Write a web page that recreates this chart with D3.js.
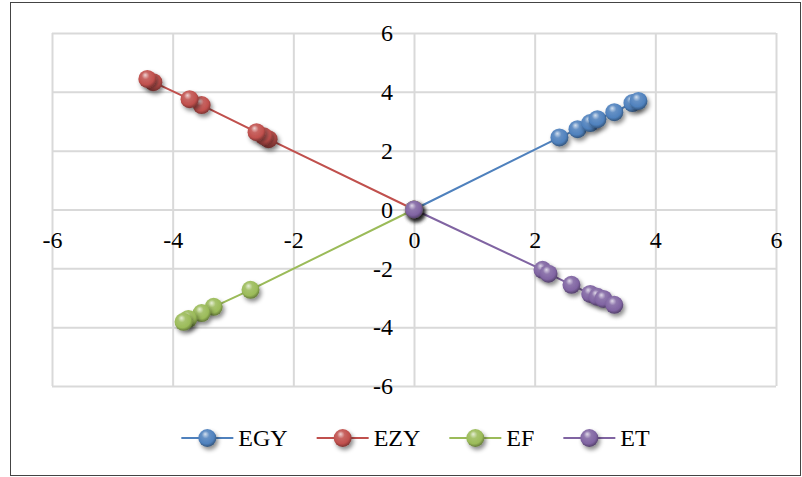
<!DOCTYPE html>
<html>
<head>
<meta charset="utf-8">
<script src="https://cdn.jsdelivr.net/npm/d3@7"></script>
<style>
  html, body { margin: 0; padding: 0; background: #fff; }
  svg { display: block; }
  text { font-family: "Liberation Serif", "Times New Roman", serif; fill: #000; }
</style>
</head>
<body>
<svg id="chart" width="802" height="477"></svg>
<script>
// ---- data ----
const seriesNames = ["EGY", "EZY", "EF", "ET"];
const seriesColors = ["#4F81BD", "#C0504D", "#9BBB59", "#8064A2"];
const egyX = [0, 2.41, 2.71, 2.92, 3.04, 3.32, 3.62, 3.72];
const egyY = [0, 2.45, 2.73, 2.94, 3.07, 3.31, 3.62, 3.69];
const ezyX = [0, -2.41, -2.49, -2.61, -3.52, -3.72, -4.32, -4.42];
const ezyY = [0, 2.39, 2.49, 2.63, 3.55, 3.75, 4.33, 4.44];
const efX = [0, -2.71, -3.32, -3.52, -3.74, -3.82];
const efY = [0, -2.73, -3.31, -3.52, -3.72, -3.82];
const etX = [0, 2.13, 2.23, 2.61, 2.92, 3.04, 3.14, 3.32];
const etY = [0, -2.05, -2.18, -2.56, -2.87, -2.97, -3.04, -3.24];
const tickValues = [-6, -4, -2, 0, 2, 4, 6];
const tickLabels = ["-6", "-4", "-2", "0", "2", "4", "6"];

const seriesX = [egyX, ezyX, efX, etX];
const seriesY = [egyY, ezyY, efY, etY];
const series = seriesNames.map((name, i) => ({
  name, color: seriesColors[i],
  points: seriesX[i].map((x, j) => ({x, y: seriesY[i][j]}))
}));
const labelOf = d => tickLabels[tickValues.indexOf(d)];

// ---- layout ----
const svg = d3.select("#chart");
const x = d3.scaleLinear().domain([-6, 6]).range([52, 776]);
const y = d3.scaleLinear().domain([-6, 6]).range([386, 33]);
const R = 9;

// outer border
svg.append("rect").attr("x", 10.5).attr("y", 2.5).attr("width", 790).attr("height", 473)
  .attr("fill", "#fff").attr("stroke", "#444").attr("stroke-width", 1);

// defs: gradients + shadow
const defs = svg.append("defs");
const f = defs.append("filter").attr("id", "shadow").attr("x", "-50%").attr("y", "-50%")
  .attr("width", "200%").attr("height", "200%");
f.append("feDropShadow").attr("dx", 2).attr("dy", 3).attr("stdDeviation", 2)
  .attr("flood-color", "#000").attr("flood-opacity", 0.45);

series.forEach((s, i) => {
  const c = d3.color(s.color);
  const g = defs.append("radialGradient").attr("id", "grad" + i)
    .attr("cx", "45%").attr("cy", "40%").attr("r", "60%").attr("fx", "38%").attr("fy", "28%");
  g.append("stop").attr("offset", "0%").attr("stop-color", d3.interpolateRgb(s.color, "#fff")(0.75));
  g.append("stop").attr("offset", "35%").attr("stop-color", d3.interpolateRgb(s.color, "#fff")(0.12));
  g.append("stop").attr("offset", "75%").attr("stop-color", s.color);
  g.append("stop").attr("offset", "100%").attr("stop-color", c.darker(1.2).formatHex());
});

// gridlines
const gridColor = "#d9d9d9";
svg.append("g").attr("transform", `translate(0,${y(-6)})`)
  .call(d3.axisBottom(x).tickValues(tickValues).tickSize(-(y(-6) - y(6))).tickFormat(""))
  .call(g => g.select(".domain").remove())
  .call(g => g.selectAll("line").attr("stroke", gridColor).attr("stroke-width", 2));
svg.append("g").attr("transform", `translate(${x(-6)},0)`)
  .call(d3.axisLeft(y).tickValues(tickValues).tickSize(-(x(6) - x(-6))).tickFormat(""))
  .call(g => g.select(".domain").remove())
  .call(g => g.selectAll("line").attr("stroke", gridColor).attr("stroke-width", 2));

// axis labels
svg.append("g").attr("transform", `translate(0,${y(0)})`)
  .call(d3.axisBottom(x).tickValues(tickValues).tickSize(0).tickPadding(21).tickFormat(labelOf))
  .call(g => g.select(".domain").remove())
  .call(g => g.selectAll("text").attr("font-size", 24).attr("fill", "#000"));
svg.append("g").attr("transform", `translate(${x(0)},0)`)
  .call(d3.axisLeft(y).tickValues(tickValues).tickSize(0).tickPadding(21).tickFormat(labelOf))
  .call(g => g.select(".domain").remove())
  .call(g => g.selectAll("text").attr("font-size", 24).attr("fill", "#000"));

// lines
const line = d3.line().x(d => x(d.x)).y(d => y(d.y));
series.forEach(s => {
  svg.append("path").datum(s.points).attr("d", line)
    .attr("fill", "none").attr("stroke", s.color).attr("stroke-width", 2);
});
// markers
series.forEach((s, i) => {
  svg.append("g").selectAll("circle").data(s.points).join("circle")
    .attr("cx", d => x(d.x)).attr("cy", d => y(d.y)).attr("r", R)
    .attr("fill", `url(#grad${i})`).attr("filter", "url(#shadow)");
});

// legend
const legend = svg.append("g");
let cx = 0;
series.forEach((s, i) => {
  const g = legend.append("g").attr("transform", `translate(${cx},0)`);
  g.append("line").attr("x1", 0).attr("x2", 52).attr("y1", 0).attr("y2", 0)
    .attr("stroke", s.color).attr("stroke-width", 2);
  g.append("circle").attr("cx", 26).attr("cy", 0).attr("r", R)
    .attr("fill", `url(#grad${i})`).attr("filter", "url(#shadow)");
  const t = g.append("text").attr("x", 57).attr("y", 0).attr("dy", "0.35em")
    .attr("font-size", 24).text(s.name);
  cx += 57 + t.node().getComputedTextLength() + 29;
});
const legendWidth = cx - 29;
legend.attr("transform", `translate(${415.5 - legendWidth / 2},438)`);
</script>
</body>
</html>
